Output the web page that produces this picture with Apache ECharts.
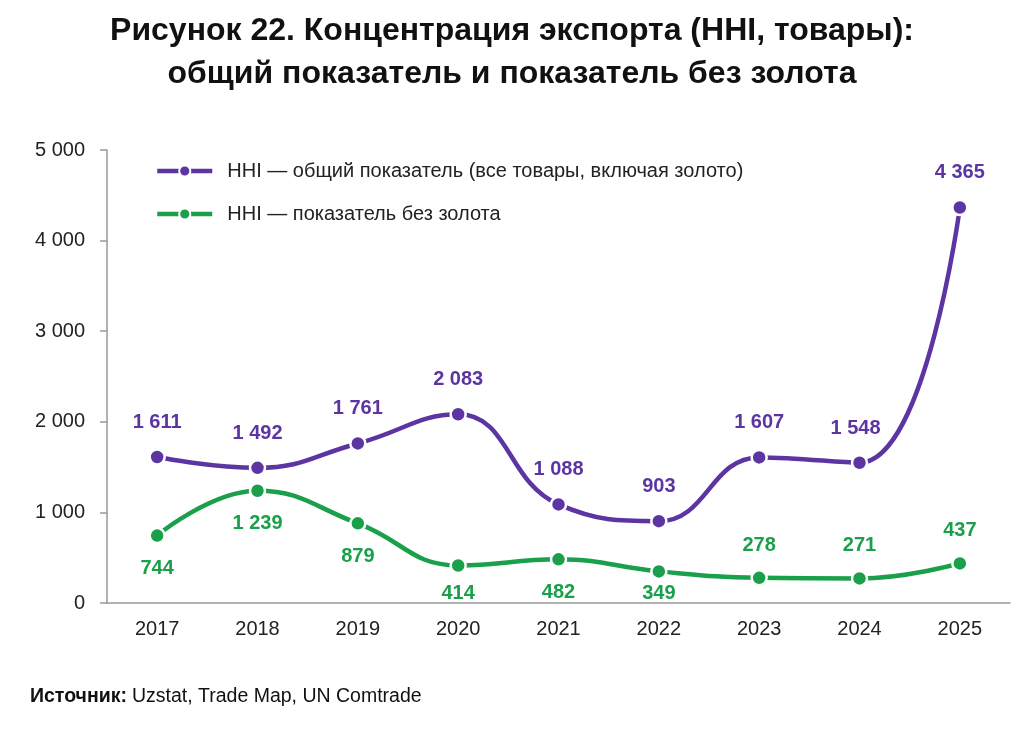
<!DOCTYPE html>
<html>
<head>
<meta charset="utf-8"/>
<title>HHI</title>
<style>
html, body {margin:0; padding:0; background:#fff;}
#chart {width:1024px; height:741px;}
</style>
</head>
<body>
<div id="chart"></div>
<script src="https://cdn.jsdelivr.net/npm/echarts@6/dist/echarts.min.js"></script>
<script type="text/javascript">
    // данные графика
    var years = ['2017', '2018', '2019', '2020', '2021', '2022', '2023', '2024', '2025'];
    var hhiTotal = [1611, 1492, 1761, 2083, 1088, 903, 1607, 1548, 4365];
    var hhiNoGold = [744, 1239, 879, 414, 482, 349, 278, 271, 437];
    var yTicks = [0, 1000, 2000, 3000, 4000, 5000];

    var nameTotal = 'HHI — общий показатель (все товары, включая золото)';
    var nameNoGold = 'HHI — показатель без золота';

    var purple = '#5d35a3';
    var green = '#1a9f4b';
    var font = '"Liberation Sans", Arial, sans-serif';

    // где ставить подпись у зелёной линии
    var greenLabelPos = ['bottom', 'bottom', 'bottom', 'bottom', 'bottom', 'bottom', 'top', 'top', 'top'];

    function fmt(v) {
        return String(v).replace(/\B(?=(\d{3})+(?!\d))/g, ' ');
    }

    var chart = echarts.init(document.getElementById('chart'));

    var totalData = [];
    for (var i = 0; i < hhiTotal.length; i++) {
        var item = {value: hhiTotal[i]};
        if (i == 7) {
            item.label = {offset: [-4, 0]};
        }
        totalData.push(item);
    }

    var noGoldData = [];
    for (var j = 0; j < hhiNoGold.length; j++) {
        var dist = 14;
        if (j == 5) dist = 3;
        if (j == 3) dist = 9;
        noGoldData.push({
            value: hhiNoGold[j],
            label: {position: greenLabelPos[j], distance: dist}
        });
    }

    var option = {
        animation: false,
        backgroundColor: '#ffffff',
        title: [{
            text: 'Рисунок 22. Концентрация экспорта (HHI, товары):\nобщий показатель и показатель без золота',
            left: 'center',
            top: 5,
            textStyle: {
                fontFamily: font,
                fontWeight: 'bold',
                fontSize: 32,
                lineHeight: 43,
                color: '#111111'
            }
        }, {
            text: '{b|Источник:} {n|Uzstat, Trade Map, UN Comtrade}',
            left: 30,
            top: 687,
            padding: 0,
            textStyle: {
                rich: {
                    b: {fontFamily: font, fontWeight: 'bold', fontSize: 19.5, color: '#111'},
                    n: {fontFamily: font, fontWeight: 'normal', fontSize: 19.5, color: '#111'}
                }
            }
        }],
        legend: {
            orient: 'vertical',
            left: 150,
            top: 156,
            itemWidth: 55,
            itemHeight: 14,
            itemGap: 23,
            lineStyle: {width: 4.5},
            textStyle: {fontFamily: font, fontSize: 20, color: '#222', padding: [0, 0, 0, 10]},
            data: [nameTotal, nameNoGold]
        },
        grid: {left: 107, right: 14, top: 150, bottom: 138},
        xAxis: {
            type: 'category',
            data: years,
            boundaryGap: true,
            axisLine: {lineStyle: {color: '#999999', width: 1.5}},
            axisTick: {show: false},
            axisLabel: {fontFamily: font, fontSize: 20, color: '#222', margin: 16}
        },
        yAxis: {
            type: 'value',
            min: yTicks[0],
            max: yTicks[yTicks.length - 1],
            interval: yTicks[1] - yTicks[0],
            axisLine: {show: true, lineStyle: {color: '#999999', width: 1.5}},
            axisTick: {show: true, length: 7, lineStyle: {color: '#999999', width: 1.5}},
            splitLine: {show: false},
            axisLabel: {
                fontFamily: font, fontSize: 20, color: '#222', margin: 22,
                formatter: function (v) { return fmt(v); }
            }
        },
        series: [{
            name: nameTotal,
            type: 'line',
            smooth: 0.45,
            data: totalData,
            symbol: 'circle',
            symbolSize: 15,
            itemStyle: {color: purple, borderColor: '#fff', borderWidth: 2.5},
            lineStyle: {color: purple, width: 4.5},
            label: {
                show: true,
                position: 'top',
                distance: 16,
                fontFamily: font,
                fontWeight: 'bold',
                fontSize: 20,
                color: purple,
                formatter: function (p) { return fmt(p.value); }
            }
        }, {
            name: nameNoGold,
            type: 'line',
            smooth: 0.45,
            data: noGoldData,
            symbol: 'circle',
            symbolSize: 15,
            itemStyle: {color: green, borderColor: '#fff', borderWidth: 2.5},
            lineStyle: {color: green, width: 4.5},
            label: {
                show: true,
                fontFamily: font,
                fontWeight: 'bold',
                fontSize: 20,
                color: green,
                formatter: function (p) { return fmt(p.value); }
            }
        }]
    };

    chart.setOption(option);
    window.onresize = chart.resize;
</script>
</body>
</html>
